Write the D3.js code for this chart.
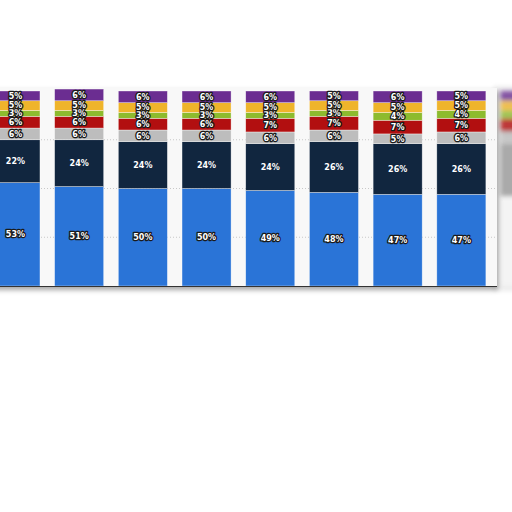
<!DOCTYPE html>
<head>
	<meta charset="utf-8">
	<title>Share stack</title>
	<script src="https://d3js.org/d3.v7.min.js"></script>
	<style>
		body { margin: 0; background: #fff; }
		.lbl {
			font-family: "DejaVu Sans", sans-serif;
			font-weight: bold;
			font-size: 8px;
			fill: #fff;
			stroke: #1a1a1a;
			stroke-width: 2.6px;
			paint-order: stroke;
			stroke-linejoin: round;
		}
	</style>
</head>
<body>
<div id="viz"></div>
<script>
// one column per period, segments bottom -> top
var periods = ["p0", "p1", "p2", "p3", "p4", "p5", "p6", "p7", "p8"];
var seriesKeys = ["blue", "navy", "grey", "red", "green", "yellow", "purple"];
var blue   = [53, 51, 50, 50, 49, 48, 47, 47, 46];
var navy   = [22, 24, 24, 24, 24, 26, 26, 26, 27];
var grey   = [6, 6, 6, 6, 6, 6, 5, 6, 6];
var red    = [6, 6, 6, 6, 7, 7, 7, 7, 7];
var green  = [3, 3, 3, 3, 3, 3, 4, 4, 4];
var yellow = [5, 5, 5, 5, 5, 5, 5, 5, 5];
var purple = [5, 6, 6, 6, 6, 5, 6, 5, 5];
var colors = ["#2a74d7", "#11263f", "#bdbdbd", "#b20f10", "#8dbb2e", "#efb42b", "#6b2d91"];

var cols = [blue, navy, grey, red, green, yellow, purple];
var rows = periods.map(function(p, i) {
	var r = {period: p};
	seriesKeys.forEach(function(k, j) { r[k] = cols[j][i]; });
	return r;
});

var width = 512, height = 512;
var svg = d3.select("#viz").append("svg")
	.attr("width", width)
	.attr("height", height);

var defs = svg.append("defs");
defs.append("filter").attr("id", "blur")
	.append("feGaussianBlur").attr("stdDeviation", 2.2);
var sh = defs.append("filter").attr("id", "shadow")
	.attr("x", "-5%").attr("y", "-5%").attr("width", "110%").attr("height", "115%");
sh.append("feDropShadow").attr("dx", 1).attr("dy", 3).attr("stdDeviation", 2.5)
	.attr("flood-color", "#000").attr("flood-opacity", 0.35);

var x = d3.scaleBand()
	.domain(periods)
	.range([-16.4, 556.9])
	.paddingInner(0.23)
	.paddingOuter(0.115);

var y = d3.scaleLinear().domain([0, 100]).range([286, 91]);

var stacked = d3.stack().keys(seriesKeys)(rows);

// background, out of focus, on the right
svg.append("rect")
	.attr("x", 494).attr("y", 86).attr("width", 30).attr("height", 205)
	.attr("fill", "#ececec").attr("filter", "url(#blur)");
var far = svg.append("g").attr("filter", "url(#blur)").attr("opacity", 0.8);
stacked.forEach(function(s, j) {
	far.append("rect")
		.attr("x", x("p8")).attr("width", x.bandwidth())
		.attr("y", y(s[8][1])).attr("height", y(s[8][0]) - y(s[8][1]))
		.attr("fill", j === 1 ? "#9a9a9a" : (j === 0 ? "#f6f6f6" : colors[j]));
});

// main panel
svg.append("rect")
	.attr("x", -10).attr("y", 88).attr("width", 507).attr("height", 199)
	.attr("fill", "#f8f8f8")
	.attr("filter", "url(#shadow)");

// dotted gridlines
svg.append("g").selectAll("line")
	.data([25, 50, 75])
	.join("line")
	.attr("x1", -10).attr("x2", 495)
	.attr("y1", function(d) { return y(d); })
	.attr("y2", function(d) { return y(d); })
	.attr("stroke", "#c8c8c8")
	.attr("stroke-dasharray", "1,2");

var main = periods.slice(0, 8);
var g = svg.append("g");
stacked.forEach(function(s, j) {
	g.selectAll(null)
		.data(s.filter(function(d) { return main.indexOf(d.data.period) >= 0; }))
		.join("rect")
		.attr("x", function(d) { return x(d.data.period); })
		.attr("width", x.bandwidth())
		.attr("y", function(d) { return y(d[1]); })
		.attr("height", function(d) { return y(d[0]) - y(d[1]); })
		.attr("fill", colors[j])
		.attr("stroke", "#fff")
		.attr("stroke-opacity", 0.6)
		.attr("stroke-width", 0.6);
});

// baseline
svg.append("line")
	.attr("x1", -10).attr("x2", 497)
	.attr("y1", 286.5).attr("y2", 286.5)
	.attr("stroke", "#333").attr("stroke-width", 1);

// value labels
stacked.forEach(function(s, j) {
	g.selectAll(null)
		.data(s.filter(function(d) { return main.indexOf(d.data.period) >= 0; }))
		.join("text")
		.attr("class", "lbl")
		.attr("x", function(d) { return x(d.data.period) + x.bandwidth() / 2; })
		.attr("y", function(d) { return (y(d[0]) + y(d[1])) / 2; })
		.attr("dy", "0.35em")
		.attr("text-anchor", "middle")
		.style("stroke", j === 1 ? "none" : null)
		.text(function(d) { return (d[1] - d[0]) + "%"; });
});
</script>
</body>
</html>
